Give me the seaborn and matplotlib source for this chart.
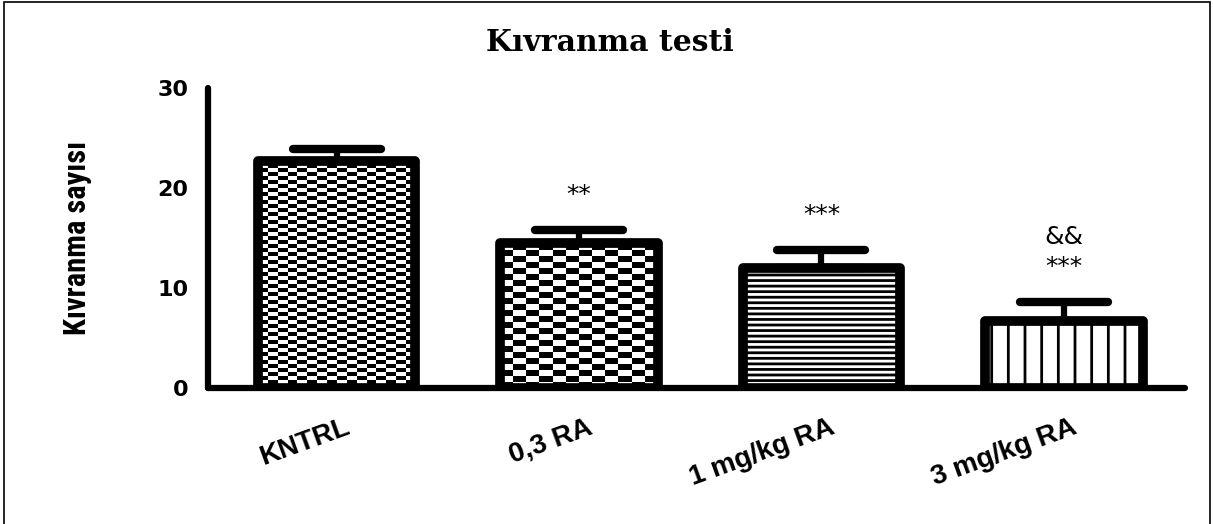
import numpy as np
import matplotlib
matplotlib.use("Agg")
import matplotlib.pyplot as plt
import matplotlib.transforms as mtransforms
from matplotlib import font_manager
from matplotlib.markers import MarkerStyle
from matplotlib.patches import Rectangle
import seaborn as sns

# ── data ────────────────────────────────────────────────────
groups = ["KNTRL", "0,3 RA", "1 mg/kg RA", "3 mg/kg RA"]
means = [22.7, 14.5, 12.0, 6.7]
sems = [1.2, 1.3, 1.8, 1.9]
sig_vs_control = ["", "**", "***", "***"]
sig_vs_low = ["", "", "", "&&"]

# fill style of each bar: ("checker", cols, row height) or ("hatch", pattern)
bar_fills = [("checker", 16, 0.4), ("checker", 12, 0.6), ("hatch", "---"), ("hatch", "|")]

sns.set_style("white")
plt.rcParams.update({
    "hatch.linewidth": 2.0,
    "font.family": ["DejaVu Sans"],
    "text.color": "black",
    "axes.labelcolor": "black",
    "axes.edgecolor": "black",
    "xtick.color": "black",
    "ytick.color": "black",
})

# narrow face for the y label if one is installed
installed = {f.name for f in font_manager.fontManager.ttflist}
narrow = None
for cand in ["Liberation Sans Narrow", "DejaVu Sans Condensed", "Roboto Condensed",
             "Open Sans Condensed", "Noto Sans Condensed"]:
    if cand in installed:
        narrow = cand
        break
if narrow:
    ylab_font, ylab_size = [narrow, "DejaVu Sans"], 22
else:
    ylab_font, ylab_size = ["DejaVu Sans"], 15.5

fig = plt.figure(figsize=(12.13, 5.24), dpi=100)
ax = fig.add_axes([0.1715, 0.2595, 0.8055, 0.5725])

sns.barplot(x=groups, y=means, color="white", saturation=1, edgecolor="black",
            linewidth=7, width=0.65, errorbar=None, ax=ax, zorder=2)

for patch, fill in zip(ax.patches, bar_fills):
    patch.set_joinstyle("round")
    if fill[0] == "hatch":
        patch.set_hatch(fill[1])
    else:
        ncols, row_h = fill[1], fill[2]
        x0, w, h = patch.get_x(), patch.get_width(), patch.get_height()
        nrows = int(np.ceil(h / row_h))
        rr, cc = np.indices((nrows, ncols))
        board = (rr + cc) % 2
        patch.set_facecolor((1, 1, 1, 0))
        im = ax.imshow(board, cmap="gray", interpolation="nearest", aspect="auto",
                       origin="lower", extent=(x0, x0 + w, 0, nrows * row_h), zorder=1)
        im.set_clip_path(patch)

# error bars, upper half only
eb = ax.errorbar(range(len(groups)), means, yerr=[np.zeros(len(sems)), sems],
                 fmt="none", ecolor="black", elinewidth=4.5, capsize=32, capthick=6, zorder=3)
for cap in eb[1]:
    cap.set_marker(MarkerStyle("_", capstyle="round"))
for coll in eb[2]:
    coll.set_capstyle("round")

# significance marks
for i, (m, s) in enumerate(zip(means, sems)):
    if sig_vs_control[i]:
        ax.text(i, m + s + 3.5, sig_vs_control[i], ha="center", va="center", fontsize=18)
    if sig_vs_low[i]:
        ax.text(i, m + s + 6.5, sig_vs_low[i], ha="center", va="center", fontsize=18)

ax.set_xlim(-0.53, 3.5)
ax.set_ylim(0, 30)
ax.set_yticks([0, 10, 20, 30])
sns.despine(ax=ax)
for side in ["left", "bottom"]:
    ax.spines[side].set_linewidth(4.5)
    ax.spines[side].set_capstyle("round")
ax.tick_params(axis="both", direction="out", length=7, width=3.5, color="black")
ax.tick_params(axis="y", pad=7, labelsize=16)
ax.tick_params(axis="x", pad=12)
for lab in ax.get_yticklabels():
    lab.set_fontweight("bold")

ax.set_xticks(range(len(groups)))
ax.set_xticklabels(groups, rotation=20, ha="right", rotation_mode="anchor",
                   fontsize=20, fontweight="bold", family=["Liberation Sans", "DejaVu Sans"])
shift = mtransforms.ScaledTranslation(0.08, 0, fig.dpi_scale_trans)
for lab in ax.get_xticklabels():
    lab.set_transform(lab.get_transform() + shift)

ax.set_xlabel("")
ax.set_ylabel("Kıvranma sayısı", fontsize=ylab_size, fontweight="bold", family=ylab_font)
ax.yaxis.set_label_coords(-0.119, 0.5)

fig.text(0.503, 0.918, "Kıvranma testi", ha="center", va="center",
         fontsize=21.5, fontweight="bold", family=["DejaVu Serif"])

fig.add_artist(Rectangle((0.0033, -0.05), 0.9942, 1.046, transform=fig.transFigure,
                         fill=False, edgecolor="black", linewidth=1.2))

fig.savefig("out.png", dpi=100)
